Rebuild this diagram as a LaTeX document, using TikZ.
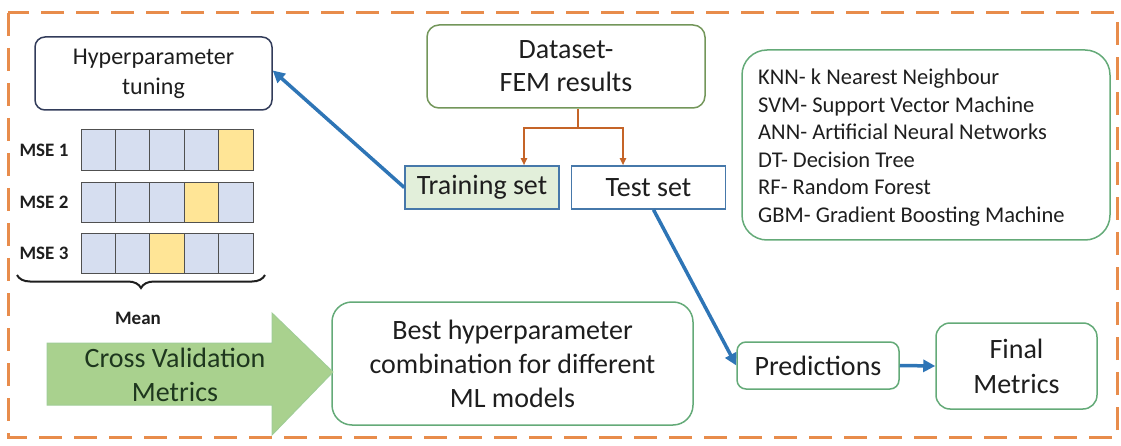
\documentclass[tikz,border=0pt]{standalone}
\usepackage{fontspec}
\setmainfont{Carlito}
\usetikzlibrary{arrows.meta,decorations.pathreplacing,calc}
\definecolor{frameor}{RGB}{232,140,75}
\definecolor{splitor}{RGB}{197,100,40}
\definecolor{arrblue}{RGB}{46,117,182}
\definecolor{greenbd}{RGB}{100,170,120}
\definecolor{databd}{RGB}{115,150,90}
\definecolor{hyperbd}{RGB}{50,60,90}
\definecolor{setbd}{RGB}{70,120,170}
\definecolor{trainfill}{RGB}{226,239,218}
\definecolor{cellfill}{RGB}{214,222,240}
\definecolor{cellyel}{RGB}{255,229,150}
\definecolor{cellbd}{RGB}{80,80,80}
\definecolor{bigfill}{RGB}{169,209,142}
\definecolor{bigbd}{RGB}{160,205,150}
\definecolor{bigtext}{RGB}{30,55,30}
\definecolor{txt}{RGB}{30,30,30}
\newcommand{\myfs}[2]{\fontsize{#1}{#2}\selectfont}
\begin{document}
\begin{tikzpicture}[x=1pt,y=-1pt,
  box/.style={draw, line width=1.5pt, inner sep=0pt, align=center, text=txt},
  gbox/.style={box, draw=greenbd},
  setbox/.style={box, draw=setbd, minimum width=154, minimum height=43, font=\myfs{28}{34}},
  cell/.style={draw=cellbd, line width=1pt, fill=cellfill, minimum width=34.4, minimum height=40.5, inner sep=0pt},
  ycell/.style={cell, fill=cellyel},
  mselab/.style={font=\bfseries\myfs{19}{22}, text=txt, inner sep=0pt},
  bluearrow/.style={draw=arrblue, line width=3.5pt, -{Triangle[length=12pt,width=12pt]}},
  splitarrow/.style={draw=splitor, line width=1.8pt, -{Triangle[length=7pt,width=6pt]}}
]
\useasboundingbox (0,0) rectangle (1121,446);
% dashed frame
\draw[frameor, line width=3pt, dash pattern=on 23pt off 12pt] (8,13) rectangle (1117,437);

% nodes
\node[box, draw=hyperbd, rounded corners=10pt, minimum width=237, minimum height=73, font=\myfs{24}{30}] (hyper) at (153.5,73.5) {Hyperparameter\\tuning};
\node[box, draw=databd, rounded corners=12pt, minimum width=278, minimum height=83, font=\myfs{28}{33}] (data) at (566,66.5) {Dataset-\\FEM results};
\node[setbox, fill=trainfill] (train) at (482,187.5) {Training set};
\node[setbox, fill=white] (test) at (648.5,187.5) {Test set};
\node[gbox, rounded corners=25pt, minimum width=368, minimum height=190, font=\myfs{22.5}{27.5}] (legend) at (926,145) {};
\node[text=txt, align=left, anchor=west, inner sep=0pt, font=\myfs{22.5}{27.5}] (legendtext) at (758,147.5) {KNN- k Nearest Neighbour\\SVM- Support Vector Machine\\ANN- Artificial Neural Networks\\DT- Decision Tree\\RF- Random Forest\\GBM- Gradient Boosting Machine};
\node[gbox, rounded corners=20pt, minimum width=361, minimum height=123, font=\myfs{28}{34}] (best) at (512.5,363.5) {Best hyperparameter\\combination for different\\ML models};
\node[gbox, rounded corners=9pt, minimum width=162, minimum height=47, font=\myfs{28}{34}] (pred) at (818,365.5) {Predictions};
\node[gbox, rounded corners=14pt, minimum width=161, minimum height=86, font=\myfs{28}{35}] (final) at (1016.5,366) {Final\\Metrics};

% MSE grid
\foreach \r/\yc/\yy in {1/150/5, 2/202.5/4, 3/253.5/3} {
  \foreach \c in {1,...,5} {
    \ifnum\c=\yy
      \node[ycell] (cell\r\c) at ({81+34.4*(\c-0.5)},\yc) {};
    \else
      \node[cell] (cell\r\c) at ({81+34.4*(\c-0.5)},\yc) {};
    \fi
  }
  \node[mselab] (mse\r) at (44,\yc) {MSE \r};
}
% brace and mean
\draw[line width=2pt, txt, decorate, decoration={brace, mirror, amplitude=13pt}] (17,275) -- (265,275);
\node[mselab] (mean) at (138,318) {Mean};

% big arrow
\draw[fill=bigfill, draw=bigbd, line width=1pt] (47,343) -- (272,343) -- (272,313) -- (333,372) -- (272,435) -- (272,405) -- (47,405) -- cycle;
\node[text=bigtext, align=center, inner sep=0pt, font=\myfs{28}{34}] (cvm) at (175,375) {Cross Validation\\Metrics};

% connectors
\coordinate (split) at (578,128);
\draw[draw=splitor, line width=1.8pt] ([xshift=12pt]data.south) -- (split);
\draw[splitarrow] (split) -| ([xshift=42pt]train.north);
\draw[splitarrow] (split) -| ([xshift=-25.5pt]test.north);
\draw[bluearrow] (train.west) -- ([yshift=3pt]hyper.east);
\draw[bluearrow] ([xshift=5pt]test.south) -- (pred.west);
\draw[bluearrow] (pred.east) -- (final.west);
\end{tikzpicture}
\end{document}
